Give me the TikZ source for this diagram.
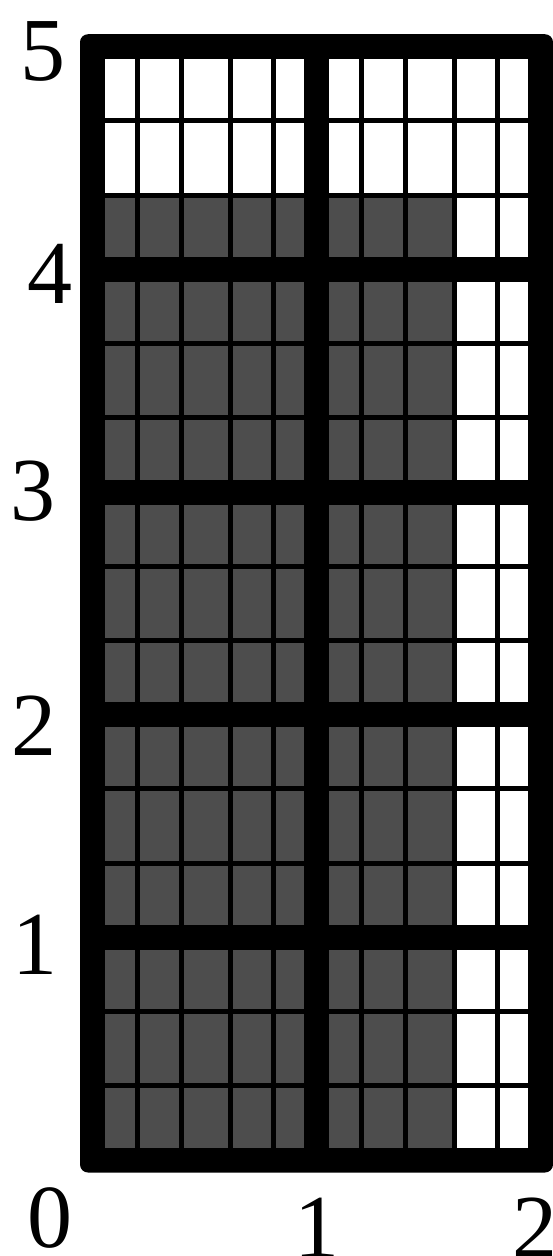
\documentclass[tikz,border=0pt]{standalone}
\usepackage{fontspec}
\setmainfont{Liberation Serif}
\definecolor{cellgray}{RGB}{77,77,77}
\begin{document}
\begin{tikzpicture}[x=1pt,y=-1pt,
  lbl/.style={inner sep=0pt, font=\fontsize{90}{90}\selectfont},
  frame/.style={fill=black, rounded corners=8pt}]
\useasboundingbox (0,0) rectangle (552,1256);
\fill[frame] (80,34.2) rectangle (553,1172.5);
\foreach \i in {0,1}{
 \foreach \j in {0,...,4}{
  \foreach \k/\a/\b in {0/0/0.2,1/0.2/0.397,2/0.397/0.614,3/0.614/0.81,4/0.81/1}{
   \foreach \r/\c/\d in {0/0/0.3333,1/0.3333/0.6667,2/0.6667/1}{
     \pgfmathsetmacro\xl{92.5+224*\i+224*\a+((\k==0)?12.5:2.5)}
     \pgfmathsetmacro\xr{92.5+224*\i+224*\b-((\k==4)?12.5:2.5)}
     \pgfmathsetmacro\yt{46.7+222.66*\j+222.66*\c+((\r==0)?12.5:2.5)}
     \pgfmathsetmacro\yb{46.7+222.66*\j+222.66*\d-((\r==2)?12.5:2.5)}
     \pgfmathtruncatemacro\w{max((\i==1)*(\k>=3),(\j==0)*(\r<2))}
     \ifnum\w=1
       \fill[white] (\xl,\yt) rectangle (\xr,\yb);
     \else
       \fill[cellgray] (\xl,\yt) rectangle (\xr,\yb);
     \fi
   }
  }
 }
}
\node[lbl] (y5) at (42.5,51) {5};
\node[lbl] (y4) at (50,274) {4};
\node[lbl] (y3) at (33,491) {3};
\node[lbl] (y2) at (34,726) {2};
\node[lbl] (y1) at (35,945) {1};
\node[lbl] (x0) at (50,1218) {0};
\node[lbl] (x1) at (317,1228) {1};
\node[lbl] (x2) at (535,1228) {2};
\end{tikzpicture}
\end{document}
